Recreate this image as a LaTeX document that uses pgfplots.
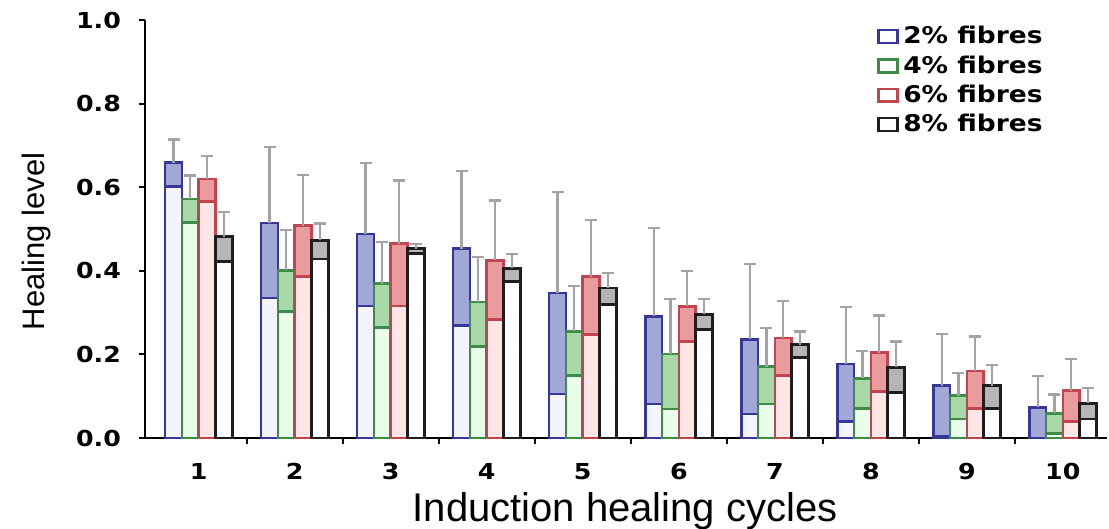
\documentclass[border=0pt]{standalone}
\usepackage{fontspec}
\setmainfont{Liberation Sans}
\newfontfamily\tickfont{DejaVu Sans}
\usepackage{pgfplots}
\usepackage{pgfplotstable}
\pgfplotsset{compat=1.18}

\definecolor{bO}{HTML}{35379A}
\definecolor{bT}{HTML}{A3A7D6}
\definecolor{bL}{HTML}{F4F4FF}
\definecolor{gO}{HTML}{3D8B45}
\definecolor{gT}{HTML}{A6D8A8}
\definecolor{gL}{HTML}{EAFCEA}
\definecolor{rO}{HTML}{C2444E}
\definecolor{rT}{HTML}{E89C9E}
\definecolor{rL}{HTML}{FFE6E6}
\definecolor{kO}{HTML}{1E1E1E}
\definecolor{kT}{HTML}{B5B5B5}
\definecolor{kL}{HTML}{FFFFFF}
\definecolor{errc}{HTML}{A3A3A3}

\pgfplotstableread{
x mean err low
1 0.659 0.055 0.602
2 0.514 0.182 0.335
3 0.488 0.170 0.316
4 0.453 0.185 0.269
5 0.347 0.242 0.105
6 0.291 0.212 0.081
7 0.236 0.180 0.057
8 0.177 0.136 0.040
9 0.125 0.123 0.003
10 0.073 0.076 0.000
}\dataA
\pgfplotstableread{
x mean err low
1 0.572 0.056 0.515
2 0.401 0.097 0.303
3 0.369 0.100 0.265
4 0.325 0.108 0.219
5 0.255 0.108 0.149
6 0.201 0.132 0.069
7 0.171 0.092 0.081
8 0.143 0.066 0.071
9 0.101 0.055 0.045
10 0.059 0.045 0.011
}\dataB
\pgfplotstableread{
x mean err low
1 0.620 0.055 0.566
2 0.508 0.121 0.386
3 0.465 0.151 0.316
4 0.425 0.143 0.283
5 0.386 0.136 0.248
6 0.315 0.084 0.231
7 0.239 0.089 0.149
8 0.204 0.089 0.111
9 0.160 0.083 0.071
10 0.113 0.076 0.039
}\dataC
\pgfplotstableread{
x mean err low
1 0.482 0.059 0.422
2 0.473 0.040 0.428
3 0.453 0.011 0.442
4 0.406 0.034 0.374
5 0.359 0.036 0.319
6 0.296 0.036 0.259
7 0.223 0.032 0.193
8 0.169 0.062 0.109
9 0.125 0.050 0.071
10 0.083 0.036 0.045
}\dataD

\pgfplotsset{
  mainbar/.style={ybar, bar width=0.175, bar shift=0, line width=1.3bp,
    error bars/y dir=plus, error bars/y explicit,
    error bars/error bar style={errc, line width=1.1bp},
    error bars/error mark options={errc, rotate=90, mark size=3bp, line width=1.1bp}},
  lowbar/.style={ybar, bar width=0.175, bar shift=0, line width=1.3bp, forget plot},
}
\newcommand{\wide}[1]{\scalebox{1.15}[1]{#1}}

\begin{document}
\begin{tikzpicture}
\begin{axis}[
  name=ax,
  scale only axis,
  width=481bp, height=209bp,
  xmin=0.44, xmax=10.46,
  ymin=0, ymax=1.0,
  axis x line*=bottom,
  axis y line*=left,
  axis line style={black, line width=1bp},
  xtick={1,...,10},
  minor xtick={1.5,2.5,...,9.5},
  major x tick style={draw=none},
  minor x tick style={black, line width=1bp},
  ytick={0,0.2,...,1.0},
  y tick style={black, line width=1bp},
  tick align=outside,
  major tick length=3bp,
  minor tick length=3bp,
  /pgf/number format/assume math mode=true,
  yticklabel={\wide{\pgfmathprintnumber[fixed, fixed zerofill, precision=1]{\tick}}},
  xticklabel={\wide{\pgfmathprintnumber{\tick}}},
  tick label style={font=\tickfont\bfseries\fontsize{11bp}{12bp}\selectfont, black},
  yticklabel shift=5.5bp,
  xticklabel shift=6bp,
  xlabel={Induction healing cycles},
  ylabel={Healing level},
  xlabel style={font=\fontsize{20bp}{24bp}\selectfont, at={(axis description cs:0.499,0)}, anchor=center, yshift=-36.5bp},
  ylabel style={font=\fontsize{15.5bp}{18bp}\selectfont, at={(axis description cs:-0.1123,0.47)}, anchor=center},
  legend style={at={(0.761,0.996)}, anchor=north west, draw=none, fill=none,
    font=\tickfont\bfseries\fontsize{11.5bp}{13bp}\selectfont, row sep=0bp,
    inner sep=0pt, nodes={inner sep=2.2bp}},
  legend cell align=left,
  legend image code/.code={\draw[#1, fill=white, line width=1.2bp] (0bp,-3.2bp) rectangle (9.5bp,3.2bp);},
  clip=false,
]
\addplot[mainbar, draw=bO, fill=bT] table[x expr=\thisrow{x}-0.2625, y=mean, y error=err]{\dataA};
\addlegendentry{\wide{2\% fibres}}
\addplot[lowbar, draw=bO, fill=bL] table[x expr=\thisrow{x}-0.2625, y=low]{\dataA};
\addplot[mainbar, draw=gO, fill=gT] table[x expr=\thisrow{x}-0.0875, y=mean, y error=err]{\dataB};
\addlegendentry{\wide{4\% fibres}}
\addplot[lowbar, draw=gO, fill=gL] table[x expr=\thisrow{x}-0.0875, y=low]{\dataB};
\addplot[mainbar, draw=rO, fill=rT] table[x expr=\thisrow{x}+0.0875, y=mean, y error=err]{\dataC};
\addlegendentry{\wide{6\% fibres}}
\addplot[lowbar, draw=rO, fill=rL] table[x expr=\thisrow{x}+0.0875, y=low]{\dataC};
\addplot[mainbar, draw=kO, fill=kT] table[x expr=\thisrow{x}+0.2625, y=mean, y error=err]{\dataD};
\addlegendentry{\wide{8\% fibres}}
\addplot[lowbar, draw=kO, fill=kL] table[x expr=\thisrow{x}+0.2625, y=low]{\dataD};
\end{axis}
\pgfresetboundingbox
\path ([xshift=-72.5bp,yshift=-45.5bp]ax.south west) rectangle ([xshift=1bp,yshift=10bp]ax.north east);
\end{tikzpicture}
\end{document}
